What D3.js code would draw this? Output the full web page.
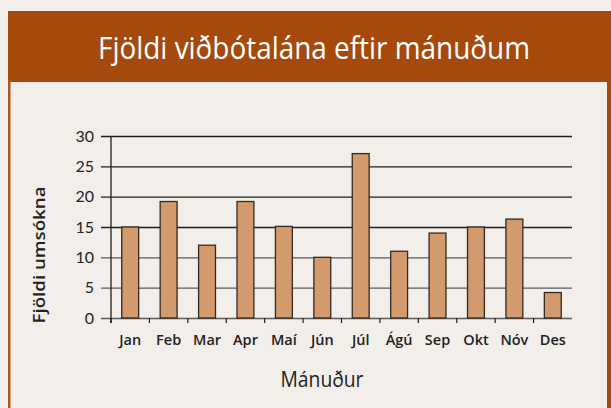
<!DOCTYPE html>
<html>
<head>
<meta charset="utf-8">
<script src="https://cdn.jsdelivr.net/npm/d3@7"></script>
<style>
  html, body { margin: 0; padding: 0; background: #f2efea; }
  svg { display: block; }
</style>
</head>
<body>
<div id="container"></div>
<script>
// data
var months = ['Jan', 'Feb', 'Mar', 'Apr', 'Maí', 'Jún', 'Júl', 'Ágú', 'Sep', 'Okt', 'Nóv', 'Des'];
var applications = [15, 19.2, 12, 19.2, 15.1, 10, 27.1, 11, 14, 15, 16.3, 4.2];
var yTicks = [0, 5, 10, 15, 20, 25, 30];

var title = 'Fjöldi viðbótalána eftir mánuðum';
var xTitle = 'Mánuður';
var yTitle = 'Fjöldi umsókna';

var width = 611, height = 408;
var plot = { left: 111, right: 572, top: 136, bottom: 318 };

var svg = d3.select('#container').append('svg')
  .attr('width', width)
  .attr('height', height);

// background + frame
svg.append('rect')
  .attr('width', width).attr('height', height)
  .attr('fill', '#f2efea');

svg.append('rect')
  .attr('x', 8).attr('y', 11)
  .attr('width', width - 8).attr('height', 71)
  .attr('fill', '#a54a0c');

svg.append('rect')
  .attr('x', 8).attr('y', 80)
  .attr('width', 2.5).attr('height', height - 80)
  .attr('fill', '#b0561a');
svg.append('rect')
  .attr('x', 607).attr('y', 80)
  .attr('width', 4).attr('height', height - 80)
  .attr('fill', '#a54a0c');

svg.append('text')
  .attr('x', 314).attr('y', 59)
  .attr('text-anchor', 'middle')
  .attr('font-family', 'Open Sans, sans-serif')
  .attr('font-size', 31)
  .attr('fill', '#ffffff')
  .attr('textLength', 432)
  .attr('lengthAdjust', 'spacingAndGlyphs')
  .text(title);

// scales
var x = d3.scaleBand()
  .domain(months)
  .range([plot.left, plot.right])
  .paddingInner(0.56)
  .paddingOuter(0.28);

var y = d3.scaleLinear()
  .domain([0, 30])
  .range([plot.bottom, plot.top]);

// y axis with gridlines
var yAxis = svg.append('g')
  .attr('transform', 'translate(' + (plot.left - 10) + ',0)')
  .call(d3.axisLeft(y)
    .tickValues(yTicks)
    .tickSize(-(plot.right - plot.left + 10))
    .tickPadding(7));

yAxis.select('.domain').remove();
yAxis.selectAll('.tick line')
  .attr('stroke', function(d) { return d <= 10 ? '#5a5a5a' : '#1e1e1e'; })
  .attr('stroke-width', 1.3);
yAxis.selectAll('.tick text')
  .attr('font-family', 'Lato, sans-serif')
  .attr('font-size', 16)
  .attr('fill', '#222');

// bars
svg.append('g').selectAll('rect')
  .data(applications)
  .join('rect')
  .attr('x', function(d, i) { return x(months[i]); })
  .attr('y', function(d) { return y(d); })
  .attr('width', x.bandwidth())
  .attr('height', function(d) { return y(0) - y(d); })
  .attr('fill', '#d39a6e')
  .attr('stroke', '#35291f')
  .attr('stroke-width', 1.3);

// vertical axis line
svg.append('line')
  .attr('x1', plot.left).attr('x2', plot.left)
  .attr('y1', plot.top).attr('y2', plot.bottom + 5)
  .attr('stroke', '#1e1e1e')
  .attr('stroke-width', 1.3);

// x axis: tick marks at category boundaries
var step = x.step();
svg.append('g').selectAll('line')
  .data(months)
  .join('line')
  .attr('x1', function(d) { return x(d) - step * 0.28; })
  .attr('x2', function(d) { return x(d) - step * 0.28; })
  .attr('y1', plot.bottom)
  .attr('y2', plot.bottom + 5)
  .attr('stroke', '#1e1e1e')
  .attr('stroke-width', 1.2);

var xAxis = svg.append('g')
  .attr('transform', 'translate(0,' + plot.bottom + ')')
  .call(d3.axisBottom(x).tickSize(0).tickPadding(17));
xAxis.select('.domain').remove();
xAxis.selectAll('.tick text')
  .attr('font-family', 'Open Sans, sans-serif')
  .attr('font-weight', 600)
  .attr('font-size', 14.5)
  .attr('fill', '#222');

// axis titles
svg.append('text')
  .attr('x', 322).attr('y', 387)
  .attr('text-anchor', 'middle')
  .attr('font-family', 'Open Sans, sans-serif')
  .attr('font-size', 22)
  .attr('fill', '#222')
  .attr('textLength', 83)
  .attr('lengthAdjust', 'spacingAndGlyphs')
  .text(xTitle);

svg.append('text')
  .attr('transform', 'translate(45,255) rotate(-90)')
  .attr('text-anchor', 'middle')
  .attr('font-family', 'Open Sans, sans-serif')
  .attr('font-weight', 600)
  .attr('font-size', 17)
  .attr('fill', '#222')
  .attr('textLength', 137)
  .attr('lengthAdjust', 'spacingAndGlyphs')
  .text(yTitle);
</script>
</body>
</html>
